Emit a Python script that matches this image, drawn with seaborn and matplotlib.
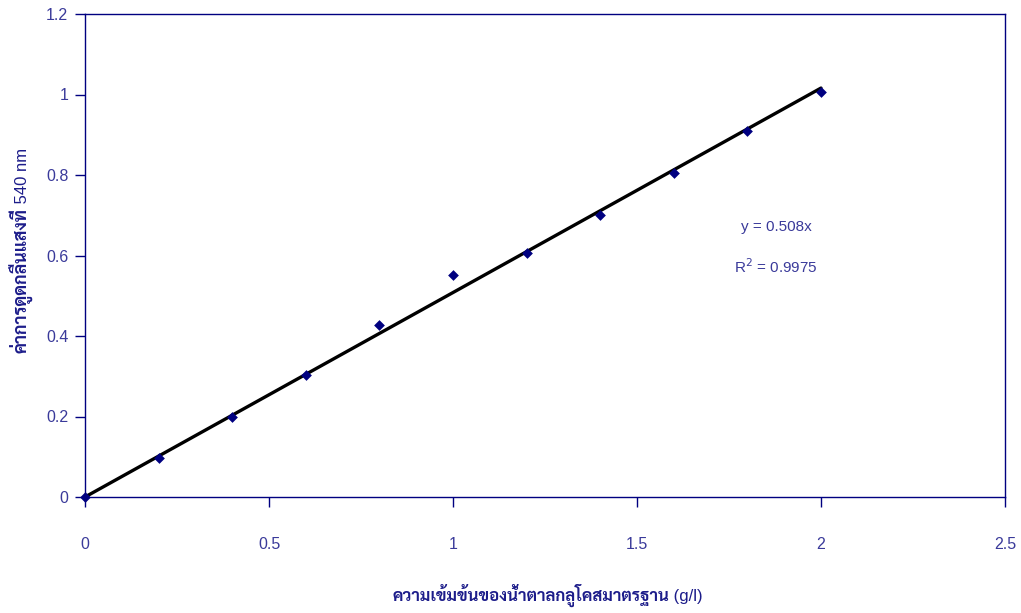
import matplotlib
matplotlib.use("Agg")
import matplotlib.pyplot as plt
import numpy as np
import pandas as pd
import seaborn as sns

# Glucose standard curve: concentration (g/l) vs absorbance at 540 nm
concentration = [0.0, 0.2, 0.4, 0.6, 0.8, 1.0, 1.2, 1.4, 1.6, 1.8, 2.0]
absorbance = [0.000, 0.097, 0.200, 0.303, 0.427, 0.552, 0.606, 0.701, 0.805, 0.909, 1.006]
slope = 0.508
r_squared = 0.9975
x_ticks = [0, 0.5, 1, 1.5, 2, 2.5]
y_ticks = [0, 0.2, 0.4, 0.6, 0.8, 1, 1.2]
x_title = ("ความเข้มข้นของน้ำตาลกลูโคสมาตรฐาน", " (g/l)")
y_title = ("ค่าการดูดกลืนแสงที่", " 540 nm")

NAVY = "#000080"
TEXT = "#3a3a9a"
TITLE = "#1c1c8a"
FONTS = ["Liberation Sans", "Sarabun", "DejaVu Sans"]

sns.set_style("white")
plt.rcParams["font.family"] = FONTS

W, H = 1021, 613
df = pd.DataFrame({"conc": concentration, "abs": absorbance})
fit_x = np.array([0.0, max(concentration)])
fit = pd.DataFrame({"conc": fit_x, "abs": slope * fit_x})

fig = plt.figure(figsize=(W / 100, H / 100), dpi=100)
ax = fig.add_axes([85 / W, 116 / H, 920 / W, 483 / H])

sns.lineplot(data=fit, x="conc", y="abs", ax=ax, color="black", linewidth=2.4, zorder=2)
sns.scatterplot(data=df, x="conc", y="abs", ax=ax, marker="D", s=30, color=NAVY,
                edgecolor=NAVY, linewidth=0, zorder=3, clip_on=False)

ax.set_xlim(0, 2.5)
ax.set_ylim(0, 1.2)
ax.set_xticks(x_ticks)
ax.set_xticklabels([f"{t:g}" for t in x_ticks])
ax.set_yticks(y_ticks)
ax.set_yticklabels([f"{t:g}" for t in y_ticks])
ax.set_xlabel("")
ax.set_ylabel("")

for side in ax.spines.values():
    side.set_color(NAVY)
    side.set_linewidth(1.0)

ax.tick_params(axis="both", which="major", direction="out", length=7, width=1.0,
               color=NAVY, labelcolor=TEXT, labelsize=11.5)
ax.tick_params(axis="x", pad=22, bottom=True)
ax.tick_params(axis="y", pad=5, left=True)

# Axis titles: Thai words in bold, units in regular weight, placed side by side
xs, ys = 669, 601
fig.text(xs / W, 1 - ys / H, x_title[0], ha="right", va="baseline",
         fontsize=12, fontweight="bold", color=TITLE)
fig.text(xs / W, 1 - ys / H, x_title[1], ha="left", va="baseline",
         fontsize=12, color=TITLE)

bx, by = 27, 208
fig.text(bx / W, 1 - by / H, y_title[0], ha="right", va="baseline", rotation=90,
         rotation_mode="anchor", fontsize=12.8, fontweight="bold", color=TITLE)
fig.text(bx / W, 1 - by / H, y_title[1], ha="left", va="baseline", rotation=90,
         rotation_mode="anchor", fontsize=12, color=TITLE)

ax.text(1.878, 0.672, f"y = {slope:g}x", ha="center", va="center", fontsize=11, color=TEXT)
ax.text(1.878, 0.572, f"R$^{{2}}$ = {r_squared:g}", ha="center", va="center",
        fontsize=11, color=TEXT)

fig.savefig("out.png", dpi=100)
